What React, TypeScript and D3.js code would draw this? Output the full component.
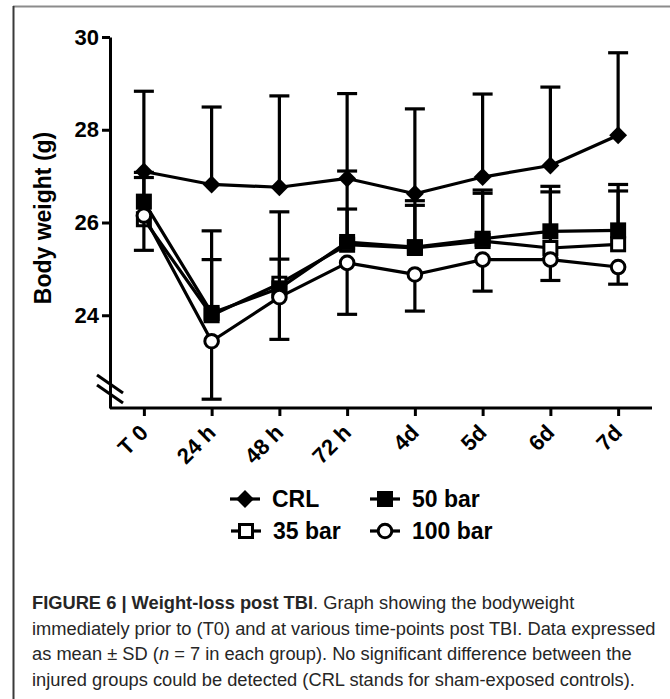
import React, { useEffect, useRef } from 'react';
import * as d3 from 'd3';

// time points on the x axis
const timePoints = ['T 0', '24 h', '48 h', '72 h', '4d', '5d', '6d', '7d'];

// mean body weight (g) and SD per group
const crlMean = [27.1, 26.82, 26.76, 26.95, 26.62, 26.98, 27.23, 27.88];
const crlSD = [1.73, 1.67, 1.97, 1.83, 1.83, 1.79, 1.69, 1.78];
const bar35Mean = [26.07, 24.0, 24.68, 25.52, 25.45, 25.6, 25.45, 25.53];
const bar35SD = [0.9, 1.2, 0.53, 0.77, 0.92, 1.03, 1.21, 1.15];
const bar50Mean = [26.45, 24.05, 24.58, 25.58, 25.47, 25.65, 25.81, 25.83];
const bar50SD = [0.63, 1.77, 1.65, 1.53, 1.0, 1.05, 0.97, 0.99];
const bar100Mean = [26.15, 23.44, 24.39, 25.13, 24.88, 25.2, 25.2, 25.04];
const bar100SD = [0.75, 1.25, 0.91, 1.11, 0.79, 0.68, 0.45, 0.37];

const yTicks = [24, 26, 28, 30];

const FONT = 'Liberation Sans, Arial, Helvetica, sans-serif';

type Series = { name: string; mean: number[]; sd: number[]; marker: string; dir: number };

// dir: +1 = error bar above, -1 = below
const series: Series[] = [
  { name: 'CRL', mean: crlMean, sd: crlSD, marker: 'diamond', dir: 1 },
  { name: '35 bar', mean: bar35Mean, sd: bar35SD, marker: 'open-square', dir: 1 },
  { name: '50 bar', mean: bar50Mean, sd: bar50SD, marker: 'square', dir: 1 },
  { name: '100 bar', mean: bar100Mean, sd: bar100SD, marker: 'circle', dir: -1 },
];

const drawMarker = (g: any, type: string, cx: number, cy: number) => {
  if (type === 'diamond') {
    g.append('path')
      .attr('d', d3.symbol().type(d3.symbolSquare).size(160)())
      .attr('transform', `translate(${cx},${cy}) rotate(45)`)
      .attr('fill', '#000');
  } else if (type === 'square') {
    g.append('rect')
      .attr('x', cx - 8).attr('y', cy - 8)
      .attr('width', 16).attr('height', 16)
      .attr('fill', '#000');
  } else if (type === 'open-square') {
    g.append('rect')
      .attr('x', cx - 6.5).attr('y', cy - 6.5)
      .attr('width', 13).attr('height', 13)
      .attr('fill', '#fff')
      .attr('stroke', '#000')
      .attr('stroke-width', 3);
  } else {
    g.append('circle')
      .attr('cx', cx).attr('cy', cy).attr('r', 6.8)
      .attr('fill', '#fff')
      .attr('stroke', '#000')
      .attr('stroke-width', 3);
  }
};

const App = () => {
  const ref = useRef<SVGSVGElement | null>(null);

  useEffect(() => {
    if (!ref.current) return;
    const svg = d3.select(ref.current);
    svg.selectAll('*').remove();

    // page frame
    svg.append('line')
      .attr('x1', 13).attr('x2', 670).attr('y1', 6.5).attr('y2', 6.5)
      .attr('stroke', '#8c8c8c').attr('stroke-width', 2);
    svg.append('line')
      .attr('x1', 13.5).attr('x2', 13.5).attr('y1', 6).attr('y2', 699)
      .attr('stroke', '#3a3a3a').attr('stroke-width', 2);

    const x = d3.scalePoint<string>().domain(timePoints).range([110, 652]).padding(0.5);
    const y = d3.scaleLinear().domain([22, 30]).range([408, 37]);

    // y axis
    const yAxis = svg.append('g')
      .attr('transform', 'translate(110,0)')
      .call(d3.axisLeft(y).tickValues(yTicks).tickSize(8).tickSizeOuter(0).tickPadding(3).tickFormat(d3.format('d')));
    yAxis.selectAll('path, line').attr('stroke', '#000').attr('stroke-width', 3);
    yAxis.selectAll('text')
      .attr('font-family', FONT).attr('font-size', 22).attr('font-weight', 'bold').attr('fill', '#000');

    // x axis
    const xAxis = svg.append('g')
      .attr('transform', 'translate(0,408)')
      .call(d3.axisBottom(x).tickSize(8).tickSizeOuter(0));
    xAxis.selectAll('path, line').attr('stroke', '#000').attr('stroke-width', 3);
    xAxis.select('.domain').attr('d', 'M110,0H652');
    xAxis.selectAll('text')
      .attr('x', 0).attr('y', 0).attr('dy', 0)
      .attr('text-anchor', 'end')
      .attr('transform', 'translate(5,26) rotate(-45)')
      .attr('font-family', FONT).attr('font-size', 22).attr('font-weight', 'bold').attr('fill', '#000');

    // axis break
    [0, 10].forEach(off => {
      svg.append('line')
        .attr('x1', 97).attr('y1', 375 + off)
        .attr('x2', 123).attr('y2', 393 + off)
        .attr('stroke', '#000').attr('stroke-width', 3);
    });

    // y title
    svg.append('text')
      .attr('transform', 'translate(51,218) rotate(-90)')
      .attr('text-anchor', 'middle')
      .attr('font-family', FONT).attr('font-size', 23).attr('font-weight', 'bold')
      .text('Body weight (g)');

    const plot = svg.append('g');
    const line = d3.line<number>()
      .x((_, i) => x(timePoints[i]) as number)
      .y(d => y(d));

    series.forEach(s => {
      const g = plot.append('g');
      s.mean.forEach((m, i) => {
        const cx = x(timePoints[i]) as number;
        const end = y(m + s.dir * s.sd[i]);
        g.append('line')
          .attr('x1', cx).attr('x2', cx).attr('y1', y(m)).attr('y2', end)
          .attr('stroke', '#000').attr('stroke-width', 3.2);
        g.append('line')
          .attr('x1', cx - 10).attr('x2', cx + 10).attr('y1', end).attr('y2', end)
          .attr('stroke', '#000').attr('stroke-width', 3.2);
      });
      g.append('path')
        .attr('d', line(s.mean))
        .attr('fill', 'none')
        .attr('stroke', '#000')
        .attr('stroke-width', 3.2)
        .attr('stroke-linejoin', 'round');
      s.mean.forEach((m, i) => drawMarker(g, s.marker, x(timePoints[i]) as number, y(m)));
    });

    // legend
    const legendPos = [
      { cx: 245, cy: 499 },
      { cx: 246, cy: 531 },
      { cx: 385, cy: 499 },
      { cx: 385, cy: 531 },
    ];
    series.forEach((s, i) => {
      const p = legendPos[i];
      const lg = svg.append('g');
      lg.append('line')
        .attr('x1', p.cx - 15).attr('x2', p.cx + 15).attr('y1', p.cy).attr('y2', p.cy)
        .attr('stroke', '#000').attr('stroke-width', 3.2);
      drawMarker(lg, s.marker, p.cx, p.cy);
      lg.append('text')
        .attr('x', p.cx + 27).attr('y', p.cy + 8)
        .attr('font-family', FONT).attr('font-size', 23).attr('font-weight', 'bold')
        .text(s.name);
    });

    // caption
    const cap = svg.append('g')
      .attr('font-family', FONT).attr('font-size', 18.3).attr('fill', '#262626');
    const l1 = cap.append('text').attr('x', 32).attr('y', 609);
    l1.append('tspan').attr('font-weight', 'bold').text('FIGURE 6 | Weight-loss post TBI');
    l1.append('tspan').text('. Graph showing the bodyweight');
    cap.append('text').attr('x', 32).attr('y', 635)
      .text('immediately prior to (T0) and at various time-points post TBI. Data expressed');
    const l3 = cap.append('text').attr('x', 32).attr('y', 660);
    l3.append('tspan').text('as mean \u00b1 SD (');
    l3.append('tspan').attr('font-style', 'italic').text('n');
    l3.append('tspan').text(' = 7 in each group). No significant difference between the');
    cap.append('text').attr('x', 32).attr('y', 686)
      .text('injured groups could be detected (CRL stands for sham-exposed controls).');
  }, []);

  return (
    <div style={{ position: 'absolute', left: 0, top: 0 }}>
      <svg ref={ref} width={670} height={699} style={{ display: 'block', background: '#fff' }} />
    </div>
  );
};

export default App;
